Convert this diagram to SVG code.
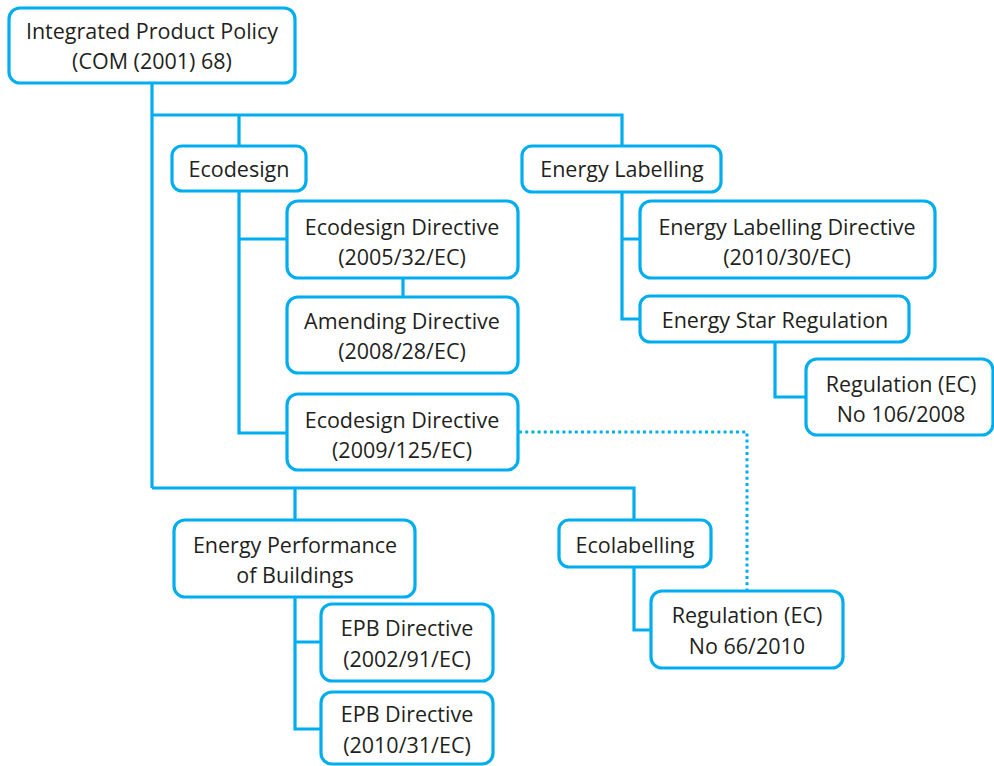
<svg xmlns="http://www.w3.org/2000/svg" width="994" height="766" viewBox="0 0 994 766">
<style>
.box{fill:#fff;stroke:#00aeef;stroke-width:3.2}
.ln{fill:none;stroke:#00aeef;stroke-width:3.2}
.dot{fill:none;stroke:#00aeef;stroke-width:3;stroke-dasharray:3 3.2}
text{font-family:"Open Sans","Noto Sans",sans-serif;font-size:21.5px;fill:#231f20;text-anchor:middle}
</style>
<rect width="994" height="766" fill="#fff"/>
<g id="connectors">
<path class="ln" d="M152,83 V488 M152,115 H622 V146 M239,115 V146 M239,191 V433 H287 M239,239 H287 M403,278 V297"/>
<path class="ln" d="M622,192 V319 H640 M622,239 H640 M775,342 V397 H806"/>
<path class="ln" d="M152,488 H634 V520 M295,488 V520 M295,597 V729 H321 M295,642 H321 M634,567 V630 H651"/>
<path class="dot" d="M519,432 H747 V590"/>
</g>
<g id="ipp"><rect class="box" x="9" y="8" width="286" height="75" rx="11"/><text x="152" y="39">Integrated Product Policy</text><text x="152" y="69">(COM (2001) 68)</text></g>
<g id="ecodesign"><rect class="box" x="172" y="146" width="134" height="45" rx="10"/><text x="239" y="177">Ecodesign</text></g>
<g id="ed2005"><rect class="box" x="287" y="201" width="231" height="77" rx="11"/><text x="402" y="235">Ecodesign Directive</text><text x="402" y="265">(2005/32/EC)</text></g>
<g id="amending"><rect class="box" x="287" y="297" width="231" height="76" rx="11"/><text x="402" y="329">Amending Directive</text><text x="402" y="359">(2008/28/EC)</text></g>
<g id="ed2009"><rect class="box" x="287" y="394" width="231" height="76" rx="11"/><text x="402" y="428">Ecodesign Directive</text><text x="402" y="458">(2009/125/EC)</text></g>
<g id="energylabelling"><rect class="box" x="522" y="146" width="199" height="46" rx="10"/><text x="622" y="177">Energy Labelling</text></g>
<g id="eld"><rect class="box" x="640" y="201" width="295" height="77" rx="11"/><text x="787" y="235">Energy Labelling Directive</text><text x="787" y="265">(2010/30/EC)</text></g>
<g id="energystar"><rect class="box" x="640" y="296" width="269" height="46" rx="10"/><text x="775" y="328">Energy Star Regulation</text></g>
<g id="reg106"><rect class="box" x="806" y="359" width="187" height="76" rx="11"/><text x="901" y="392">Regulation (EC)</text><text x="901" y="422">No 106/2008</text></g>
<g id="epb"><rect class="box" x="174" y="520" width="241" height="77" rx="11"/><text x="295" y="553">Energy Performance</text><text x="295" y="583">of Buildings</text></g>
<g id="epb2002"><rect class="box" x="321" y="604" width="172" height="77" rx="11"/><text x="407" y="636">EPB Directive</text><text x="407" y="667">(2002/91/EC)</text></g>
<g id="epb2010"><rect class="box" x="321" y="692" width="172" height="72" rx="11"/><text x="407" y="722">EPB Directive</text><text x="407" y="753">(2010/31/EC)</text></g>
<g id="ecolabelling"><rect class="box" x="559" y="520" width="152" height="47" rx="10"/><text x="635" y="553">Ecolabelling</text></g>
<g id="reg66"><rect class="box" x="651" y="591" width="192" height="77" rx="11"/><text x="747" y="623">Regulation (EC)</text><text x="747" y="654">No 66/2010</text></g>
</svg>
